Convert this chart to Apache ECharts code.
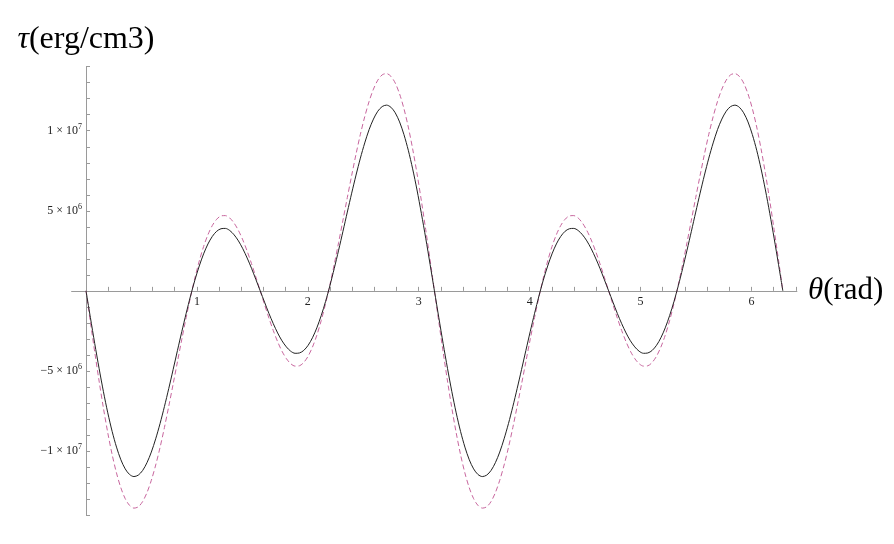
<!DOCTYPE html>
<html>
<head>
<meta charset="utf-8">
<script src="https://cdn.jsdelivr.net/npm/echarts@6/dist/echarts.min.js"></script>
<style>
  html, body { margin: 0; padding: 0; background: #fff; }
  #main { width: 894px; height: 544px; }
</style>
</head>
<body>
<div id="main"></div>
<script>
// theta samples (rad), step pi/80
var theta = [
  0, 0.0393, 0.0785, 0.1178, 0.1571, 0.1963, 0.2356, 0.2749, 0.3142, 0.3534,
  0.3927, 0.4320, 0.4712, 0.5105, 0.5498, 0.5890, 0.6283, 0.6676, 0.7069, 0.7461,
  0.7854, 0.8247, 0.8639, 0.9032, 0.9425, 0.9817, 1.0210, 1.0603, 1.0996, 1.1388,
  1.1781, 1.2174, 1.2566, 1.2959, 1.3352, 1.3744, 1.4137, 1.4530, 1.4923, 1.5315,
  1.5708, 1.6101, 1.6493, 1.6886, 1.7279, 1.7671, 1.8064, 1.8457, 1.8850, 1.9242,
  1.9635, 2.0028, 2.0420, 2.0813, 2.1206, 2.1598, 2.1991, 2.2384, 2.2777, 2.3169,
  2.3562, 2.3955, 2.4347, 2.4740, 2.5133, 2.5525, 2.5918, 2.6311, 2.6704, 2.7096,
  2.7489, 2.7882, 2.8274, 2.8667, 2.9060, 2.9452, 2.9845, 3.0238, 3.0631, 3.1023,
  3.1416, 3.1809, 3.2201, 3.2594, 3.2987, 3.3379, 3.3772, 3.4165, 3.4558, 3.4950,
  3.5343, 3.5736, 3.6128, 3.6521, 3.6914, 3.7306, 3.7699, 3.8092, 3.8485, 3.8877,
  3.9270, 3.9663, 4.0055, 4.0448, 4.0841, 4.1233, 4.1626, 4.2019, 4.2412, 4.2804,
  4.3197, 4.3590, 4.3982, 4.4375, 4.4768, 4.5160, 4.5553, 4.5946, 4.6339, 4.6731,
  4.7124, 4.7517, 4.7909, 4.8302, 4.8695, 4.9087, 4.9480, 4.9873, 5.0265, 5.0658,
  5.1051, 5.1444, 5.1836, 5.2229, 5.2622, 5.3014, 5.3407, 5.3800, 5.4193, 5.4585,
  5.4978, 5.5371, 5.5763, 5.6156, 5.6549, 5.6941, 5.7334, 5.7727, 5.8119, 5.8512,
  5.8905, 5.9298, 5.9690, 6.0083, 6.0476, 6.0868, 6.1261, 6.1654, 6.2046, 6.2439,
  6.2832
];

// solid curve, in units of 1e6 erg/cm3
var tauSolid = [
  0, -1.66, -3.29, -4.84, -6.30, -7.62, -8.78, -9.76, -10.55, -11.12,
  -11.47, -11.60, -11.51, -11.22, -10.73, -10.07, -9.24, -8.29, -7.23, -6.10,
  -4.92, -3.72, -2.54, -1.40, -0.32, 0.67, 1.55, 2.31, 2.93, 3.40,
  3.72, 3.88, 3.90, 3.77, 3.50, 3.12, 2.63, 2.05, 1.41, 0.71,
  0, -0.71, -1.41, -2.05, -2.63, -3.12, -3.50, -3.77, -3.90, -3.88,
  -3.72, -3.40, -2.93, -2.31, -1.55, -0.67, 0.32, 1.40, 2.54, 3.72,
  4.92, 6.10, 7.23, 8.29, 9.24, 10.07, 10.73, 11.22, 11.51, 11.60,
  11.47, 11.12, 10.55, 9.76, 8.78, 7.62, 6.30, 4.84, 3.29, 1.66,
  0, -1.66, -3.29, -4.84, -6.30, -7.62, -8.78, -9.76, -10.55, -11.12,
  -11.47, -11.60, -11.51, -11.22, -10.73, -10.07, -9.24, -8.29, -7.23, -6.10,
  -4.92, -3.72, -2.54, -1.40, -0.32, 0.67, 1.55, 2.31, 2.93, 3.40,
  3.72, 3.88, 3.90, 3.77, 3.50, 3.12, 2.63, 2.05, 1.41, 0.71,
  0, -0.71, -1.41, -2.05, -2.63, -3.12, -3.50, -3.77, -3.90, -3.88,
  -3.72, -3.40, -2.93, -2.31, -1.55, -0.67, 0.32, 1.40, 2.54, 3.72,
  4.92, 6.10, 7.23, 8.29, 9.24, 10.07, 10.73, 11.22, 11.51, 11.60,
  11.47, 11.12, 10.55, 9.76, 8.78, 7.62, 6.30, 4.84, 3.29, 1.66,
  0
];

// dashed curve, in units of 1e6 erg/cm3
var tauDashed = [
  0, -1.93, -3.82, -5.63, -7.33, -8.87, -10.23, -11.38, -12.30, -12.98,
  -13.40, -13.57, -13.49, -13.16, -12.60, -11.83, -10.88, -9.78, -8.54, -7.21,
  -5.83, -4.42, -3.02, -1.66, -0.38, 0.80, 1.86, 2.77, 3.51, 4.08,
  4.47, 4.68, 4.70, 4.55, 4.23, 3.77, 3.18, 2.48, 1.70, 0.86,
  0, -0.86, -1.70, -2.48, -3.18, -3.77, -4.23, -4.55, -4.70, -4.68,
  -4.47, -4.08, -3.51, -2.77, -1.86, -0.80, 0.38, 1.66, 3.02, 4.42,
  5.83, 7.21, 8.54, 9.78, 10.88, 11.83, 12.60, 13.16, 13.49, 13.57,
  13.40, 12.98, 12.30, 11.38, 10.23, 8.87, 7.33, 5.63, 3.82, 1.93,
  0, -1.93, -3.82, -5.63, -7.33, -8.87, -10.23, -11.38, -12.30, -12.98,
  -13.40, -13.57, -13.49, -13.16, -12.60, -11.83, -10.88, -9.78, -8.54, -7.21,
  -5.83, -4.42, -3.02, -1.66, -0.38, 0.80, 1.86, 2.77, 3.51, 4.08,
  4.47, 4.68, 4.70, 4.55, 4.23, 3.77, 3.18, 2.48, 1.70, 0.86,
  0, -0.86, -1.70, -2.48, -3.18, -3.77, -4.23, -4.55, -4.70, -4.68,
  -4.47, -4.08, -3.51, -2.77, -1.86, -0.80, 0.38, 1.66, 3.02, 4.42,
  5.83, 7.21, 8.54, 9.78, 10.88, 11.83, 12.60, 13.16, 13.49, 13.57,
  13.40, 12.98, 12.30, 11.38, 10.23, 8.87, 7.33, 5.63, 3.82, 1.93,
  0
];

// tick marks and labels
var xTicks = [0.2, 0.4, 0.6, 0.8, 1, 1.2, 1.4, 1.6, 1.8, 2, 2.2, 2.4, 2.6, 2.8, 3,
  3.2, 3.4, 3.6, 3.8, 4, 4.2, 4.4, 4.6, 4.8, 5, 5.2, 5.4, 5.6, 5.8, 6, 6.2, 6.4];
var xLabels = [1, 2, 3, 4, 5, 6];
var yTicks = [-14e6, -13e6, -12e6, -11e6, -10e6, -9e6, -8e6, -7e6, -6e6, -5e6, -4e6, -3e6, -2e6, -1e6,
  1e6, 2e6, 3e6, 4e6, 5e6, 6e6, 7e6, 8e6, 9e6, 10e6, 11e6, 12e6, 13e6, 14e6];
var yLabelValues = [-1e7, -5e6, 5e6, 1e7];
var yLabelMant = ['\u22121', '\u22125', '5', '1'];
var yLabelExp = ['7', '6', '6', '7'];

var SERIF = '"Liberation Serif", "DejaVu Serif", serif';

function pairs(vals) {
  return theta.map(function (t, i) { return [t, vals[i] * 1e6]; });
}

var myChart = echarts.init(document.getElementById('main'));
var option = {
  animation: false,
  backgroundColor: '#fff',
  grid: { left: 71.6, right: 97.1, top: 66.7, bottom: 29, containLabel: false },
  xAxis: {
    type: 'value',
    min: -0.13,
    max: 6.41,
    offset: -224.15,   // put the axis on y = 0
    name: '{i|θ}(rad)',
    nameLocation: 'end',
    nameGap: 11,
    nameTextStyle: {
      fontFamily: SERIF, fontSize: 31, color: '#000',
      rich: { i: { fontFamily: SERIF, fontSize: 31, fontStyle: 'italic', color: '#000' } }
    },
    splitLine: { show: false },
    axisLine: { onZero: false, lineStyle: { color: '#9a9a9a', width: 1 } },
    axisTick: { inside: true, length: 4, customValues: xTicks, lineStyle: { color: '#9a9a9a' } },
    axisLabel: {
      customValues: xLabels,
      margin: 5,
      fontFamily: SERIF,
      fontSize: 12,
      color: '#222',
      formatter: function (v) { return String(v); }
    }
  },
  yAxis: {
    type: 'value',
    min: -1.4e7,
    max: 1.4e7,
    offset: -14.4,     // put the axis on x = 0
    name: '{i|τ}(erg/cm3)',
    nameLocation: 'end',
    nameGap: 11,
    nameTextStyle: {
      fontFamily: SERIF, fontSize: 32, color: '#000',
      rich: { i: { fontFamily: SERIF, fontSize: 32, fontStyle: 'italic', color: '#000' } }
    },
    splitLine: { show: false },
    axisLine: { onZero: false, lineStyle: { color: '#9a9a9a', width: 1 } },
    axisTick: { inside: true, length: 4, customValues: yTicks, lineStyle: { color: '#9a9a9a' } },
    axisLabel: {
      customValues: yLabelValues,
      margin: 4,
      fontFamily: SERIF,
      fontSize: 12,
      color: '#222',
      formatter: function (v) {
        var i = yLabelValues.indexOf(v);
        if (i < 0) return '';
        return yLabelMant[i] + ' × 10{sup|' + yLabelExp[i] + '}';
      },
      rich: {
        sup: { fontFamily: SERIF, fontSize: 8, color: '#222', padding: [0, 0, 8, 0] }
      }
    }
  },
  series: [
    {
      name: 'dashed',
      type: 'line',
      data: pairs(tauDashed),
      smooth: 0.3,
      showSymbol: false,
      lineStyle: { color: '#c8669e', width: 1, type: [5, 3] }
    },
    {
      name: 'solid',
      type: 'line',
      data: pairs(tauSolid),
      smooth: 0.3,
      showSymbol: false,
      lineStyle: { color: '#222222', width: 1 }
    }
  ]
};
myChart.setOption(option);
</script>
</body>
</html>
